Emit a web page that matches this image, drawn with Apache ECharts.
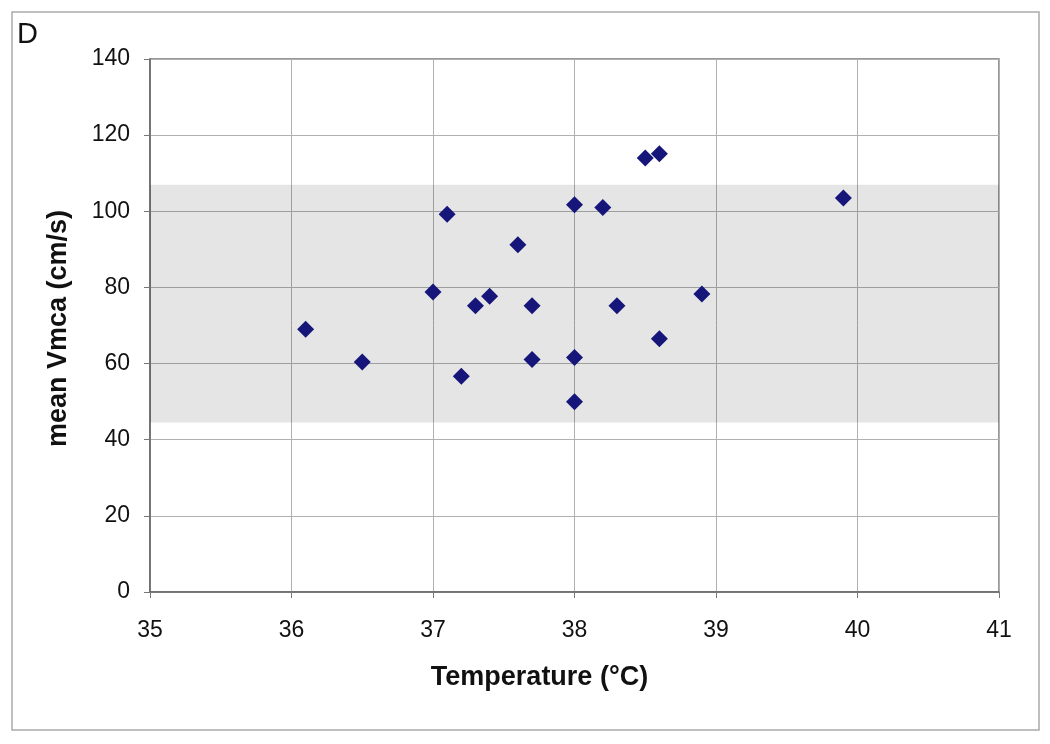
<!DOCTYPE html>
<html>
<head>
<meta charset="utf-8">
<script src="https://cdn.jsdelivr.net/npm/echarts@6/dist/echarts.min.js"></script>
<style>
  html, body { margin: 0; padding: 0; background: #fff; }
  #echart { width: 1050px; height: 744px; }
</style>
</head>
<body>
<div id="echart"></div>
<script>
// 数据
var temperature = [36.1, 36.5, 37.0, 37.1, 37.2, 37.3, 37.4, 37.6, 37.7, 37.7,
                   38.0, 38.0, 38.0, 38.2, 38.3, 38.5, 38.6, 38.6, 38.9, 39.9];
var meanVmca = [69, 60.4, 78.8, 99.2, 56.7, 75.2, 77.7, 91.2, 75.2, 61.1,
                101.7, 61.6, 50.0, 101.0, 75.2, 114.0, 115.1, 66.5, 78.3, 103.5];
var bandLow = 44.5;
var bandHigh = 107;

var points = temperature.map(function (t, i) { return [t, meanVmca[i]]; });

var myChart = echarts.init(document.getElementById('echart'));
var font = 'Liberation Sans, Arial, sans-serif';

var option = {
  backgroundColor: '#fff',
  animation: false,
  graphic: [
    {
      type: 'rect',
      shape: { x: 12, y: 12, width: 1027, height: 718 },
      style: { fill: 'none', stroke: '#aaaaaa', lineWidth: 1.5 }
    },
    {
      type: 'text',
      left: 17, top: 20,
      style: { text: 'D', font: '29px ' + font, fill: '#111' }
    }
  ],
  grid: {
    show: true,
    left: 150, top: 59, right: 51, bottom: 152,
    borderColor: '#777', borderWidth: 1.5,
    backgroundColor: '#fff'
  },
  xAxis: {
    type: 'value',
    min: 35, max: 41, interval: 1,
    name: 'Temperature (°C)',
    nameLocation: 'middle',
    nameGap: 72,
    nameTextStyle: { fontFamily: font, fontSize: 27, fontWeight: 'bold', color: '#111', padding: [0, 70, 0, 0] },
    axisLine: { show: true, onZero: false, lineStyle: { color: '#666', width: 1.5 } },
    axisTick: { show: true, length: 6, lineStyle: { color: '#777' } },
    axisLabel: { margin: 27, fontFamily: font, fontSize: 23, color: '#111' },
    splitLine: { show: true, lineStyle: { color: '#b0b0b0', width: 1 } }
  },
  yAxis: {
    type: 'value',
    min: 0, max: 140, interval: 20,
    name: 'mean Vmca (cm/s)',
    nameLocation: 'middle',
    nameGap: 78,
    nameTextStyle: { fontFamily: font, fontSize: 27, fontWeight: 'bold', color: '#111', padding: [0, 6, 0, 0] },
    axisLine: { show: true, onZero: false, lineStyle: { color: '#666', width: 1.5 } },
    axisTick: { show: true, length: 6, lineStyle: { color: '#777' } },
    axisLabel: { margin: 20, fontFamily: font, fontSize: 23, color: '#111' },
    splitLine: { show: true, lineStyle: { color: '#b0b0b0', width: 1 } }
  },
  series: [
    {
      type: 'scatter',
      data: points,
      symbol: 'diamond',
      symbolSize: [17, 17],
      itemStyle: { color: '#16167a', opacity: 1 },
      markArea: {
        silent: true,
        itemStyle: { color: 'rgba(0,0,0,0.1)' },
        data: [[{ yAxis: bandLow }, { yAxis: bandHigh }]]
      }
    }
  ]
};

myChart.setOption(option);
</script>
</body>
</html>
